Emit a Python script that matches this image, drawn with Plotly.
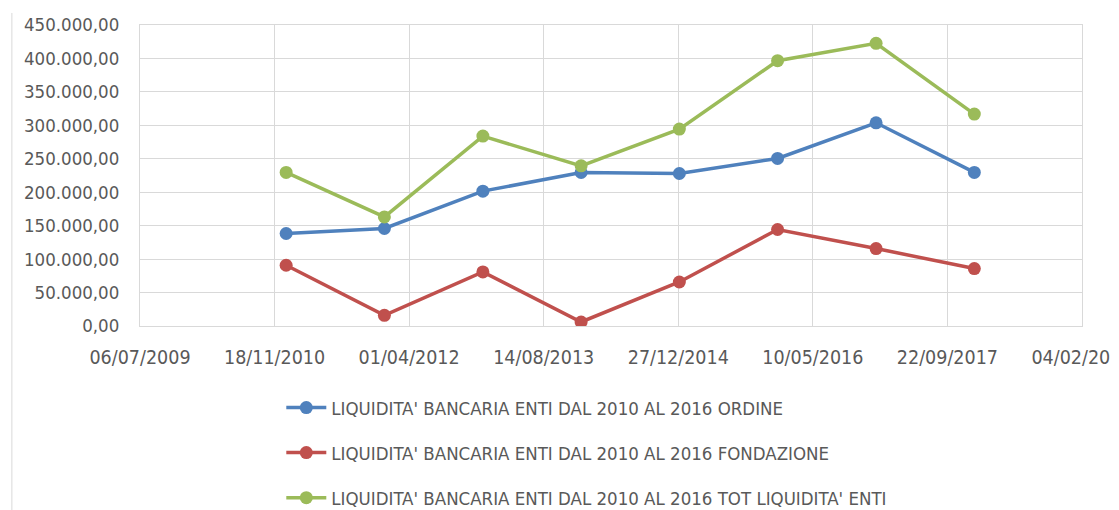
import plotly.graph_objects as go

# date di riferimento (fine anno) e valori
date = ['2010-12-31', '2011-12-31', '2012-12-31', '2013-12-31',
        '2014-12-31', '2015-12-31', '2016-12-31', '2017-12-31']

ordine = [138300, 145800, 201600, 229500, 228000, 250500, 303800, 229600]
fondazione = [90800, 16000, 80800, 6000, 65800, 144300, 115800, 85900]
totale = [229600, 163100, 283900, 239400, 294400, 396600, 422600, 316800]

nomi = [
    "LIQUIDITA' BANCARIA ENTI DAL 2010 AL 2016 ORDINE",
    "LIQUIDITA' BANCARIA ENTI DAL 2010 AL 2016 FONDAZIONE",
    "LIQUIDITA' BANCARIA ENTI DAL 2010 AL 2016 TOT LIQUIDITA' ENTI",
]
colori = ['#4F81BD', '#C0504D', '#9BBB59']

FONT = 'Liberation Sans Narrow, DejaVu Sans Condensed, Arial Narrow, sans-serif'

fig = go.Figure()
for i, (serie, nome, colore) in enumerate(zip([ordine, fondazione, totale], nomi, colori)):
    fig.add_trace(go.Scatter(
        x=date, y=serie, name=nome, mode='lines+markers',
        line=dict(color=colore, width=3.5),
        marker=dict(color=colore, size=13),
        legendgroup=f'g{i}',
    ))

# la pagina html ha un margine di 8px: la figura e' ridotta di conseguenza
fig.update_layout(
    width=1111, height=502,
    margin=dict(l=132, r=37, t=17, b=184),
    plot_bgcolor='white', paper_bgcolor='white',
    separators=',.',
    font=dict(family=FONT, size=18.5, color='#595959'),
    xaxis=dict(
        type='date',
        range=['2009-07-06', '2019-02-04 02:00'],
        tick0='2009-07-06', dtick=500 * 86400000,
        tickformat='%d/%m/%Y',
        tickfont=dict(size=19.5),
        ticklabeloverflow='allow',
        automargin=False,
        showgrid=True, gridcolor='#D9D9D9', gridwidth=1,
        showline=True, linecolor='#D9D9D9', linewidth=1, mirror=True,
        ticks='', ticklabelstandoff=14,
    ),
    yaxis=dict(
        range=[0, 450000], dtick=50000,
        tickformat=',.2f',
        automargin=False,
        showgrid=True, gridcolor='#D9D9D9', gridwidth=1,
        showline=True, linecolor='#D9D9D9', linewidth=1, mirror=True,
        ticks='', zeroline=False, ticklabelstandoff=16,
    ),
    legend=dict(
        orientation='v', traceorder='grouped', tracegroupgap=18,
        x=0.15, xanchor='left',
        y=0.241, yref='container', yanchor='top',
        font=dict(size=18.5, family=FONT, color='#595959'),
        itemwidth=40,
    ),
    showlegend=True,
)

# bordo sinistro del riquadro del grafico
fig.add_shape(type='line', xref='paper', yref='paper',
              x0=-0.136, x1=-0.136, y0=1.04, y1=-0.62,
              line=dict(color='#D9D9D9', width=1))

fig.write_html("out.html")
